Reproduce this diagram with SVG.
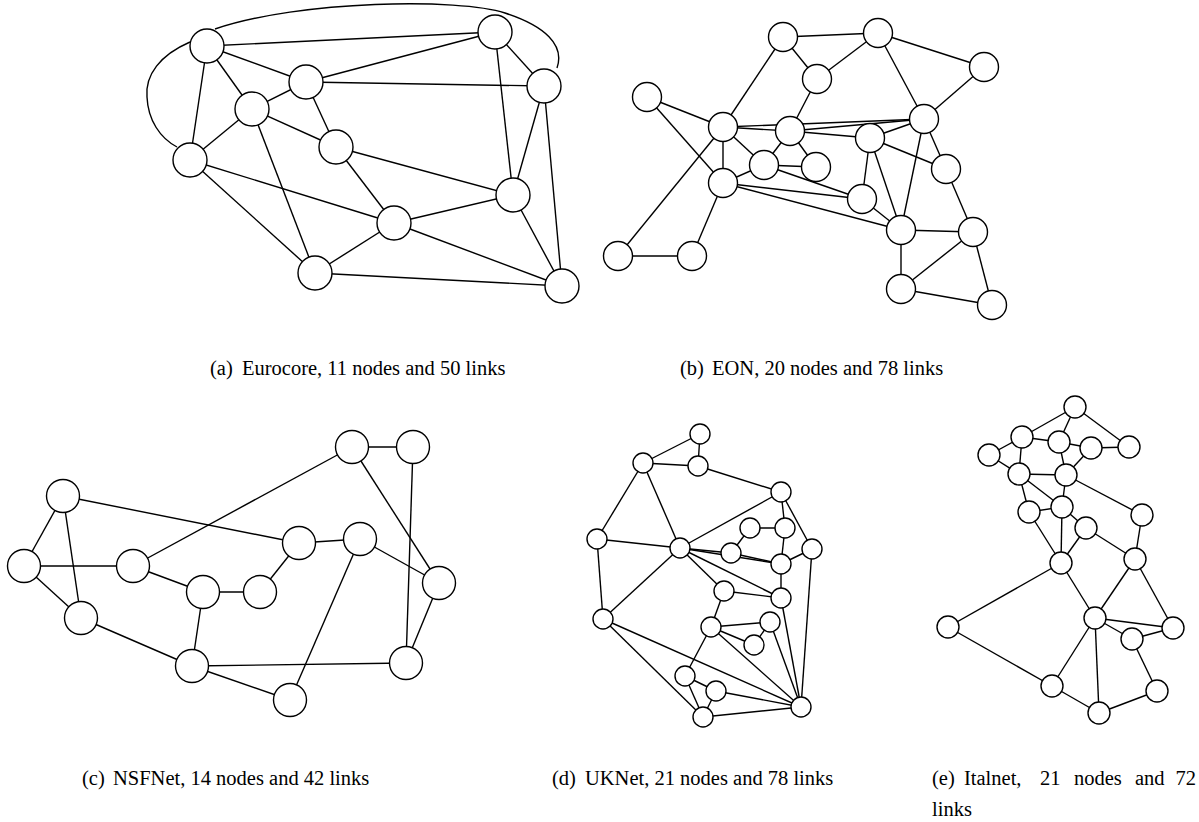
<svg xmlns="http://www.w3.org/2000/svg" width="1199" height="822" viewBox="0 0 1199 822">
<style>
.e{stroke:#000;stroke-width:1.4;fill:none}
.n{fill:#fff;stroke:#000;stroke-width:1.4}
.cap{font-family:"Liberation Serif","Times New Roman",serif;font-size:20.5px;fill:#000}
</style>
<rect width="1199" height="822" fill="#fff"/>
<g id="connectors">
<g id="edges-a">
<path class="e" d="M 215,29 C 300,0 460,-2 505,13 C 545,26 565,45 557,68"/>
<path class="e" d="M 190,42 C 160,55 145,75 147,97 C 148,120 160,138 177,147"/>
<line class="e" x1="207" y1="46" x2="495" y2="32"/>
<line class="e" x1="207" y1="46" x2="306" y2="82"/>
<line class="e" x1="207" y1="46" x2="252" y2="109"/>
<line class="e" x1="207" y1="46" x2="190" y2="160"/>
<line class="e" x1="495" y1="32" x2="306" y2="82"/>
<line class="e" x1="495" y1="32" x2="544" y2="86"/>
<line class="e" x1="495" y1="32" x2="513" y2="195"/>
<line class="e" x1="306" y1="82" x2="544" y2="86"/>
<line class="e" x1="306" y1="82" x2="252" y2="109"/>
<line class="e" x1="306" y1="82" x2="336" y2="147"/>
<line class="e" x1="252" y1="109" x2="190" y2="160"/>
<line class="e" x1="252" y1="109" x2="336" y2="147"/>
<line class="e" x1="252" y1="109" x2="315" y2="273"/>
<line class="e" x1="190" y1="160" x2="394" y2="223"/>
<line class="e" x1="190" y1="160" x2="315" y2="273"/>
<line class="e" x1="336" y1="147" x2="394" y2="223"/>
<line class="e" x1="336" y1="147" x2="513" y2="195"/>
<line class="e" x1="513" y1="195" x2="394" y2="223"/>
<line class="e" x1="513" y1="195" x2="544" y2="86"/>
<line class="e" x1="513" y1="195" x2="562" y2="286"/>
<line class="e" x1="544" y1="86" x2="562" y2="286"/>
<line class="e" x1="394" y1="223" x2="315" y2="273"/>
<line class="e" x1="394" y1="223" x2="562" y2="286"/>
<line class="e" x1="315" y1="273" x2="562" y2="286"/>
</g>
<g id="edges-b">
<line class="e" x1="783" y1="37" x2="878" y2="33"/>
<line class="e" x1="783" y1="37" x2="817" y2="79"/>
<line class="e" x1="783" y1="37" x2="723" y2="127"/>
<line class="e" x1="878" y1="33" x2="817" y2="79"/>
<line class="e" x1="878" y1="33" x2="984" y2="67"/>
<line class="e" x1="878" y1="33" x2="924" y2="119"/>
<line class="e" x1="984" y1="67" x2="924" y2="119"/>
<line class="e" x1="817" y1="79" x2="790" y2="131"/>
<line class="e" x1="647" y1="97" x2="723" y2="127"/>
<line class="e" x1="647" y1="97" x2="723" y2="183"/>
<line class="e" x1="723" y1="127" x2="618" y2="256"/>
<line class="e" x1="723" y1="127" x2="924" y2="119"/>
<line class="e" x1="723" y1="127" x2="790" y2="131"/>
<line class="e" x1="723" y1="127" x2="723" y2="183"/>
<line class="e" x1="723" y1="127" x2="764" y2="165"/>
<line class="e" x1="790" y1="131" x2="764" y2="165"/>
<line class="e" x1="790" y1="131" x2="816" y2="167"/>
<line class="e" x1="790" y1="131" x2="924" y2="119"/>
<line class="e" x1="790" y1="131" x2="870" y2="138"/>
<line class="e" x1="870" y1="138" x2="924" y2="119"/>
<line class="e" x1="870" y1="138" x2="946" y2="169"/>
<line class="e" x1="870" y1="138" x2="862" y2="199"/>
<line class="e" x1="870" y1="138" x2="901" y2="230"/>
<line class="e" x1="924" y1="119" x2="901" y2="230"/>
<line class="e" x1="924" y1="119" x2="946" y2="169"/>
<line class="e" x1="764" y1="165" x2="723" y2="183"/>
<line class="e" x1="764" y1="165" x2="816" y2="167"/>
<line class="e" x1="764" y1="165" x2="862" y2="199"/>
<line class="e" x1="723" y1="183" x2="862" y2="199"/>
<line class="e" x1="723" y1="183" x2="901" y2="230"/>
<line class="e" x1="723" y1="183" x2="692" y2="256"/>
<line class="e" x1="862" y1="199" x2="901" y2="230"/>
<line class="e" x1="618" y1="256" x2="692" y2="256"/>
<line class="e" x1="946" y1="169" x2="973" y2="232"/>
<line class="e" x1="901" y1="230" x2="973" y2="232"/>
<line class="e" x1="901" y1="230" x2="901" y2="289"/>
<line class="e" x1="973" y1="232" x2="901" y2="289"/>
<line class="e" x1="973" y1="232" x2="992" y2="305"/>
<line class="e" x1="901" y1="289" x2="992" y2="305"/>
</g>
<g id="edges-c">
<line class="e" x1="352" y1="447" x2="413" y2="447"/>
<line class="e" x1="352" y1="447" x2="133" y2="566"/>
<line class="e" x1="352" y1="447" x2="439" y2="583"/>
<line class="e" x1="413" y1="447" x2="406" y2="663"/>
<line class="e" x1="63" y1="496" x2="24" y2="566"/>
<line class="e" x1="63" y1="496" x2="81" y2="618"/>
<line class="e" x1="63" y1="496" x2="299" y2="543"/>
<line class="e" x1="24" y1="566" x2="133" y2="566"/>
<line class="e" x1="24" y1="566" x2="81" y2="618"/>
<line class="e" x1="133" y1="566" x2="203" y2="592"/>
<line class="e" x1="203" y1="592" x2="260" y2="592"/>
<line class="e" x1="260" y1="592" x2="299" y2="543"/>
<line class="e" x1="299" y1="543" x2="360" y2="539"/>
<line class="e" x1="360" y1="539" x2="439" y2="583"/>
<line class="e" x1="360" y1="539" x2="290" y2="700"/>
<line class="e" x1="439" y1="583" x2="406" y2="663"/>
<line class="e" x1="203" y1="592" x2="192" y2="666"/>
<line class="e" x1="81" y1="618" x2="192" y2="666"/>
<line class="e" x1="192" y1="666" x2="406" y2="663"/>
<line class="e" x1="192" y1="666" x2="290" y2="700"/>
</g>
<g id="edges-d">
<line class="e" x1="700" y1="434" x2="643" y2="463"/>
<line class="e" x1="700" y1="434" x2="698" y2="466"/>
<line class="e" x1="643" y1="463" x2="698" y2="466"/>
<line class="e" x1="698" y1="466" x2="781" y2="492"/>
<line class="e" x1="643" y1="463" x2="597" y2="539"/>
<line class="e" x1="643" y1="463" x2="680" y2="548"/>
<line class="e" x1="597" y1="539" x2="680" y2="548"/>
<line class="e" x1="597" y1="539" x2="603" y2="619"/>
<line class="e" x1="680" y1="548" x2="781" y2="492"/>
<line class="e" x1="680" y1="548" x2="731" y2="553"/>
<line class="e" x1="680" y1="548" x2="781" y2="564"/>
<line class="e" x1="680" y1="548" x2="781" y2="598"/>
<line class="e" x1="680" y1="548" x2="724" y2="591"/>
<line class="e" x1="680" y1="548" x2="603" y2="619"/>
<line class="e" x1="781" y1="492" x2="785" y2="528"/>
<line class="e" x1="781" y1="492" x2="812" y2="549"/>
<line class="e" x1="750" y1="528" x2="785" y2="528"/>
<line class="e" x1="750" y1="528" x2="731" y2="553"/>
<line class="e" x1="785" y1="528" x2="781" y2="564"/>
<line class="e" x1="731" y1="553" x2="781" y2="564"/>
<line class="e" x1="812" y1="549" x2="781" y2="564"/>
<line class="e" x1="812" y1="549" x2="801" y2="707"/>
<line class="e" x1="781" y1="564" x2="781" y2="598"/>
<line class="e" x1="724" y1="591" x2="781" y2="598"/>
<line class="e" x1="724" y1="591" x2="711" y2="627"/>
<line class="e" x1="781" y1="598" x2="801" y2="707"/>
<line class="e" x1="711" y1="627" x2="770" y2="622"/>
<line class="e" x1="711" y1="627" x2="754" y2="645"/>
<line class="e" x1="770" y1="622" x2="754" y2="645"/>
<line class="e" x1="770" y1="622" x2="801" y2="707"/>
<line class="e" x1="711" y1="627" x2="801" y2="707"/>
<line class="e" x1="711" y1="627" x2="685" y2="676"/>
<line class="e" x1="603" y1="619" x2="801" y2="707"/>
<line class="e" x1="603" y1="619" x2="703" y2="717"/>
<line class="e" x1="685" y1="676" x2="716" y2="691"/>
<line class="e" x1="685" y1="676" x2="703" y2="717"/>
<line class="e" x1="716" y1="691" x2="703" y2="717"/>
<line class="e" x1="716" y1="691" x2="801" y2="707"/>
<line class="e" x1="703" y1="717" x2="801" y2="707"/>
</g>
<g id="edges-e">
<line class="e" x1="1075" y1="407" x2="1022" y2="437"/>
<line class="e" x1="1075" y1="407" x2="1059" y2="442"/>
<line class="e" x1="1075" y1="407" x2="1129" y2="447"/>
<line class="e" x1="1022" y1="437" x2="1059" y2="442"/>
<line class="e" x1="1022" y1="437" x2="989" y2="455"/>
<line class="e" x1="1022" y1="437" x2="1019" y2="474"/>
<line class="e" x1="1059" y1="442" x2="1091" y2="448"/>
<line class="e" x1="1059" y1="442" x2="1066" y2="475"/>
<line class="e" x1="1091" y1="448" x2="1129" y2="447"/>
<line class="e" x1="1091" y1="448" x2="1066" y2="475"/>
<line class="e" x1="989" y1="455" x2="1019" y2="474"/>
<line class="e" x1="1019" y1="474" x2="1066" y2="475"/>
<line class="e" x1="1019" y1="474" x2="1029" y2="512"/>
<line class="e" x1="1019" y1="474" x2="1062" y2="507"/>
<line class="e" x1="1066" y1="475" x2="1062" y2="507"/>
<line class="e" x1="1066" y1="475" x2="1142" y2="515"/>
<line class="e" x1="1029" y1="512" x2="1062" y2="507"/>
<line class="e" x1="1029" y1="512" x2="1061" y2="563"/>
<line class="e" x1="1062" y1="507" x2="1086" y2="528"/>
<line class="e" x1="1062" y1="507" x2="1061" y2="563"/>
<line class="e" x1="1086" y1="528" x2="1061" y2="563"/>
<line class="e" x1="1086" y1="528" x2="1135" y2="559"/>
<line class="e" x1="1142" y1="515" x2="1135" y2="559"/>
<line class="e" x1="1061" y1="563" x2="1095" y2="618"/>
<line class="e" x1="1135" y1="559" x2="1095" y2="618"/>
<line class="e" x1="1135" y1="559" x2="1173" y2="628"/>
<line class="e" x1="1061" y1="563" x2="948" y2="627"/>
<line class="e" x1="948" y1="627" x2="1052" y2="686"/>
<line class="e" x1="1095" y1="618" x2="1052" y2="686"/>
<line class="e" x1="1095" y1="618" x2="1099" y2="713"/>
<line class="e" x1="1095" y1="618" x2="1173" y2="628"/>
<line class="e" x1="1095" y1="618" x2="1132" y2="639"/>
<line class="e" x1="1132" y1="639" x2="1173" y2="628"/>
<line class="e" x1="1132" y1="639" x2="1157" y2="691"/>
<line class="e" x1="1052" y1="686" x2="1099" y2="713"/>
<line class="e" x1="1099" y1="713" x2="1157" y2="691"/>
</g>
</g>
<g id="a-nodes">
<g id="a1"><circle class="n" cx="207" cy="46" r="17"/></g>
<g id="a2"><circle class="n" cx="495" cy="32" r="17"/></g>
<g id="a3"><circle class="n" cx="306" cy="82" r="17"/></g>
<g id="a4"><circle class="n" cx="544" cy="86" r="17"/></g>
<g id="a5"><circle class="n" cx="252" cy="109" r="17"/></g>
<g id="a6"><circle class="n" cx="336" cy="147" r="17"/></g>
<g id="a7"><circle class="n" cx="190" cy="160" r="17"/></g>
<g id="a8"><circle class="n" cx="513" cy="195" r="17"/></g>
<g id="a9"><circle class="n" cx="394" cy="223" r="17"/></g>
<g id="a10"><circle class="n" cx="315" cy="273" r="17"/></g>
<g id="a11"><circle class="n" cx="562" cy="286" r="17"/></g>
</g>
<g id="b-nodes">
<g id="b1"><circle class="n" cx="783" cy="37" r="14.5"/></g>
<g id="b2"><circle class="n" cx="878" cy="33" r="14.5"/></g>
<g id="b3"><circle class="n" cx="984" cy="67" r="14.5"/></g>
<g id="b4"><circle class="n" cx="817" cy="79" r="14.5"/></g>
<g id="b5"><circle class="n" cx="647" cy="97" r="14.5"/></g>
<g id="b6"><circle class="n" cx="924" cy="119" r="14.5"/></g>
<g id="b7"><circle class="n" cx="723" cy="127" r="14.5"/></g>
<g id="b8"><circle class="n" cx="790" cy="131" r="14.5"/></g>
<g id="b9"><circle class="n" cx="870" cy="138" r="14.5"/></g>
<g id="b10"><circle class="n" cx="764" cy="165" r="14.5"/></g>
<g id="b11"><circle class="n" cx="816" cy="167" r="14.5"/></g>
<g id="b12"><circle class="n" cx="946" cy="169" r="14.5"/></g>
<g id="b13"><circle class="n" cx="723" cy="183" r="14.5"/></g>
<g id="b14"><circle class="n" cx="862" cy="199" r="14.5"/></g>
<g id="b15"><circle class="n" cx="901" cy="230" r="14.5"/></g>
<g id="b16"><circle class="n" cx="973" cy="232" r="14.5"/></g>
<g id="b17"><circle class="n" cx="618" cy="256" r="14.5"/></g>
<g id="b18"><circle class="n" cx="692" cy="256" r="14.5"/></g>
<g id="b19"><circle class="n" cx="901" cy="289" r="14.5"/></g>
<g id="b20"><circle class="n" cx="992" cy="305" r="14.5"/></g>
</g>
<g id="c-nodes">
<g id="c1"><circle class="n" cx="352" cy="447" r="16.5"/></g>
<g id="c2"><circle class="n" cx="413" cy="447" r="16.5"/></g>
<g id="c3"><circle class="n" cx="63" cy="496" r="16.5"/></g>
<g id="c4"><circle class="n" cx="299" cy="543" r="16.5"/></g>
<g id="c5"><circle class="n" cx="360" cy="539" r="16.5"/></g>
<g id="c6"><circle class="n" cx="24" cy="566" r="16.5"/></g>
<g id="c7"><circle class="n" cx="133" cy="566" r="16.5"/></g>
<g id="c8"><circle class="n" cx="439" cy="583" r="16.5"/></g>
<g id="c9"><circle class="n" cx="203" cy="592" r="16.5"/></g>
<g id="c10"><circle class="n" cx="260" cy="592" r="16.5"/></g>
<g id="c11"><circle class="n" cx="81" cy="618" r="16.5"/></g>
<g id="c12"><circle class="n" cx="192" cy="666" r="16.5"/></g>
<g id="c13"><circle class="n" cx="406" cy="663" r="16.5"/></g>
<g id="c14"><circle class="n" cx="290" cy="700" r="16.5"/></g>
</g>
<g id="d-nodes">
<g id="d1"><circle class="n" cx="700" cy="434" r="10"/></g>
<g id="d2"><circle class="n" cx="643" cy="463" r="10"/></g>
<g id="d3"><circle class="n" cx="698" cy="466" r="10"/></g>
<g id="d4"><circle class="n" cx="781" cy="492" r="10"/></g>
<g id="d5"><circle class="n" cx="750" cy="528" r="10"/></g>
<g id="d6"><circle class="n" cx="785" cy="528" r="10"/></g>
<g id="d7"><circle class="n" cx="597" cy="539" r="10"/></g>
<g id="d8"><circle class="n" cx="680" cy="548" r="10"/></g>
<g id="d9"><circle class="n" cx="812" cy="549" r="10"/></g>
<g id="d10"><circle class="n" cx="731" cy="553" r="10"/></g>
<g id="d11"><circle class="n" cx="781" cy="564" r="10"/></g>
<g id="d12"><circle class="n" cx="724" cy="591" r="10"/></g>
<g id="d13"><circle class="n" cx="781" cy="598" r="10"/></g>
<g id="d14"><circle class="n" cx="603" cy="619" r="10"/></g>
<g id="d15"><circle class="n" cx="770" cy="622" r="10"/></g>
<g id="d16"><circle class="n" cx="711" cy="627" r="10"/></g>
<g id="d17"><circle class="n" cx="754" cy="645" r="10"/></g>
<g id="d18"><circle class="n" cx="685" cy="676" r="10"/></g>
<g id="d19"><circle class="n" cx="716" cy="691" r="10"/></g>
<g id="d20"><circle class="n" cx="801" cy="707" r="10"/></g>
<g id="d21"><circle class="n" cx="703" cy="717" r="10"/></g>
</g>
<g id="e-nodes">
<g id="e1"><circle class="n" cx="1075" cy="407" r="11"/></g>
<g id="e2"><circle class="n" cx="1022" cy="437" r="11"/></g>
<g id="e3"><circle class="n" cx="1059" cy="442" r="11"/></g>
<g id="e4"><circle class="n" cx="1091" cy="448" r="11"/></g>
<g id="e5"><circle class="n" cx="1129" cy="447" r="11"/></g>
<g id="e6"><circle class="n" cx="989" cy="455" r="11"/></g>
<g id="e7"><circle class="n" cx="1019" cy="474" r="11"/></g>
<g id="e8"><circle class="n" cx="1066" cy="475" r="11"/></g>
<g id="e9"><circle class="n" cx="1029" cy="512" r="11"/></g>
<g id="e10"><circle class="n" cx="1062" cy="507" r="11"/></g>
<g id="e11"><circle class="n" cx="1142" cy="515" r="11"/></g>
<g id="e12"><circle class="n" cx="1086" cy="528" r="11"/></g>
<g id="e13"><circle class="n" cx="1061" cy="563" r="11"/></g>
<g id="e14"><circle class="n" cx="1135" cy="559" r="11"/></g>
<g id="e15"><circle class="n" cx="1095" cy="618" r="11"/></g>
<g id="e16"><circle class="n" cx="948" cy="627" r="11"/></g>
<g id="e17"><circle class="n" cx="1173" cy="628" r="11"/></g>
<g id="e18"><circle class="n" cx="1132" cy="639" r="11"/></g>
<g id="e19"><circle class="n" cx="1052" cy="686" r="11"/></g>
<g id="e20"><circle class="n" cx="1157" cy="691" r="11"/></g>
<g id="e21"><circle class="n" cx="1099" cy="713" r="11"/></g>
</g>
<g id="captions">
<text class="cap" y="375"><tspan x="210">(a)</tspan><tspan x="242">Eurocore, 11 nodes and 50 links</tspan></text>
<text class="cap" y="375"><tspan x="680">(b)</tspan><tspan x="712">EON, 20 nodes and 78 links</tspan></text>
<text class="cap" y="785"><tspan x="82">(c)</tspan><tspan x="113">NSFNet, 14 nodes and 42 links</tspan></text>
<text class="cap" y="785"><tspan x="552">(d)</tspan><tspan x="585">UKNet, 21 nodes and 78 links</tspan></text>
<text class="cap" y="785"><tspan x="932">(e)</tspan><tspan x="964">Italnet,</tspan><tspan x="1040">21</tspan><tspan x="1074">nodes</tspan><tspan x="1135">and</tspan><tspan x="1196" text-anchor="end">72</tspan></text>
<text class="cap" x="932" y="816">links</text>
</g>
</svg>
